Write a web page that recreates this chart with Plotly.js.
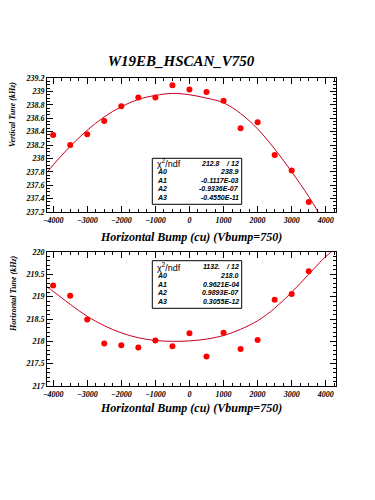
<!DOCTYPE html>
<html>
<head>
<meta charset="utf-8">
<script src="https://cdn.plot.ly/plotly-3.0.1.min.js"></script>
<style>html,body{margin:0;padding:0;background:#fff;}#chart{width:375px;height:500px;}</style>
</head>
<body>
<div id="chart"></div>
<script>
// Measured points
var bumpX = [-4000, -3500, -3000, -2500, -2000, -1500, -1000, -500, 0, 500, 1000, 1500, 2000, 2500, 3000, 3500];
var verticalTune = [238.35, 238.20, 238.36, 238.56, 238.78, 238.91, 238.91, 239.09, 239.03, 238.99, 238.86, 238.45, 238.54, 238.05, 237.82, 237.35];
var horizontalTune = [219.25, 219.02, 218.49, 217.95, 217.91, 217.86, 218.02, 217.89, 218.18, 217.66, 218.19, 217.83, 218.03, 218.93, 219.06, 219.57];

// Fit curves
var vFitX = [-4180, -4000, -3500, -3000, -2500, -2000, -1500, -1000, -500, 0, 500, 1000, 1500, 2000, 2500, 3000, 3500, 3800];
var vFitY = [237.79, 237.90, 238.18, 238.42, 238.62, 238.77, 238.88, 238.94, 238.97, 238.95, 238.90, 238.83, 238.67, 238.44, 238.14, 237.80, 237.43, 237.18];
var hFitX = [-4180, -4000, -3500, -3000, -2500, -2000, -1500, -1000, -500, 0, 500, 1000, 1500, 2000, 2500, 3000, 3500, 4000, 4350];
var hFitY = [219.22, 219.12, 218.83, 218.56, 218.35, 218.19, 218.08, 218.02, 218.00, 218.01, 218.05, 218.13, 218.27, 218.46, 218.74, 219.10, 219.50, 219.90, 220.12];

// Stats box texts
var vStatLabels = ["A0", "A1", "A2", "A3"];
var vStatValues = ["238.9", "-0.1117E-03", "-0.9336E-07", "-0.4550E-11"];
var vChi = ["212.8", "/", "12"];
var hStatLabels = ["A0", "A1", "A2", "A3"];
var hStatValues = ["218.0", "0.9621E-04", "0.9893E-07", "0.3055E-12"];
var hChi = ["1132.", "/", "12"];

var titleText = "W19EB_HSCAN_V750";
var xTitle = "Horizontal Bump (cu) (Vbump=750)";
var vYTitle = "Vertical Tune (kHz)";
var hYTitle = "Horizontal Tune (kHz)";

function px(x){ return x/375; }
function py(y){ return 1 - y/500; }

var markerStyle = {color: '#ff0000', size: 6, symbol: 'circle'};
var lineStyle = {color: '#c8001e', width: 1, shape: 'spline', smoothing: 1};

var traces = [
  {x: vFitX, y: vFitY, mode: 'lines', line: lineStyle, xaxis: 'x', yaxis: 'y', hoverinfo: 'skip'},
  {x: bumpX, y: verticalTune, mode: 'markers', marker: markerStyle, xaxis: 'x', yaxis: 'y'},
  {x: hFitX, y: hFitY, mode: 'lines', line: lineStyle, xaxis: 'x2', yaxis: 'y2', hoverinfo: 'skip'},
  {x: bumpX, y: horizontalTune, mode: 'markers', marker: markerStyle, xaxis: 'x2', yaxis: 'y2'}
];

var tickFont = {family: 'Liberation Serif', size: 8, weight: 'bold', style: 'italic', color: '#000'};

function xAxis(anchor){
  return {
    domain: [47/375, 336/375], anchor: anchor, range: [-4180, 4300],
    tick0: 0, dtick: 1000, ticks: 'inside', ticklen: 6, tickcolor: '#000',
    minor: {dtick: 250, ticks: 'inside', ticklen: 3, tickcolor: '#000'},
    showline: true, linecolor: '#000', linewidth: 1, mirror: 'allticks',
    showgrid: false, zeroline: false, tickfont: tickFont, fixedrange: true
  };
}
function yAxis(anchor, dom, rng, dt, mdt){
  return {
    domain: dom, anchor: anchor, range: rng,
    dtick: dt, tick0: 0, ticks: 'inside', ticklen: 6, tickcolor: '#000',
    minor: {dtick: mdt, ticks: 'inside', ticklen: 3, tickcolor: '#000'},
    showline: true, linecolor: '#000', linewidth: 1, mirror: 'allticks',
    showgrid: false, zeroline: false, tickfont: tickFont, fixedrange: true
  };
}

var serifTitle = {family: 'Liberation Serif', weight: 'bold', style: 'italic', color: '#000'};
function f(extra){ var o = {}; for (var k in serifTitle) o[k] = serifTitle[k]; for (var k2 in extra) o[k2] = extra[k2]; return o; }

var statFont = {family: 'Liberation Sans', size: 7, weight: 'bold', style: 'italic', color: '#000'};
var chiFont = {family: 'Liberation Sans', size: 9, color: '#000'};

var annotations = [
  {text: xTitle, x: px(191), y: py(237), xref: 'paper', yref: 'paper', xanchor: 'center', yanchor: 'middle', showarrow: false, font: f({size: 12})},
  {text: xTitle, x: px(191), y: py(408), xref: 'paper', yref: 'paper', xanchor: 'center', yanchor: 'middle', showarrow: false, font: f({size: 12})},
  {text: vYTitle, x: px(13), y: py(115), xref: 'paper', yref: 'paper', xanchor: 'center', yanchor: 'middle', textangle: -90, showarrow: false, font: f({size: 8})},
  {text: hYTitle, x: px(13), y: py(294), xref: 'paper', yref: 'paper', xanchor: 'center', yanchor: 'middle', textangle: -90, showarrow: false, font: f({size: 8})}
];

function addBox(rows, chi, labels, values){
  annotations.push({text: 'χ<sup>2</sup>/ndf', x: px(155), y: py(rows[0]), xref: 'paper', yref: 'paper', xanchor: 'left', yanchor: 'middle', showarrow: false, font: chiFont});
  annotations.push({text: chi[0], x: px(222), y: py(rows[0]), xref: 'paper', yref: 'paper', xanchor: 'right', yanchor: 'middle', showarrow: false, font: statFont});
  annotations.push({text: chi[1], x: px(227.5), y: py(rows[0]), xref: 'paper', yref: 'paper', xanchor: 'center', yanchor: 'middle', showarrow: false, font: statFont});
  annotations.push({text: chi[2], x: px(241), y: py(rows[0]), xref: 'paper', yref: 'paper', xanchor: 'right', yanchor: 'middle', showarrow: false, font: statFont});
  for (var i = 0; i < labels.length; i++){
    annotations.push({text: labels[i], x: px(155), y: py(rows[i+1]), xref: 'paper', yref: 'paper', xanchor: 'left', yanchor: 'middle', showarrow: false, font: statFont});
    annotations.push({text: values[i], x: px(241), y: py(rows[i+1]), xref: 'paper', yref: 'paper', xanchor: 'right', yanchor: 'middle', showarrow: false, font: statFont});
  }
}
addBox([163, 171.5, 180, 188.5, 197], vChi, vStatLabels, vStatValues);
addBox([266.5, 275, 284, 292.5, 301], hChi, hStatLabels, hStatValues);

var shapes = [
  {type: 'rect', xref: 'paper', yref: 'paper', x0: px(152.3), x1: px(241.7), y0: py(204.3), y1: py(158.3), line: {color: '#000', width: 1}, fillcolor: '#fff', layer: 'above'},
  {type: 'rect', xref: 'paper', yref: 'paper', x0: px(152.3), x1: px(241.7), y0: py(308.3), y1: py(260.7), line: {color: '#000', width: 1}, fillcolor: '#fff', layer: 'above'}
];

var layout = {
  width: 375, height: 500,
  margin: {l: 0, r: 0, t: 0, b: 0},
  paper_bgcolor: '#fff', plot_bgcolor: '#fff',
  showlegend: false,
  title: {text: titleText, x: px(181), y: py(61), xref: 'paper', yref: 'paper', xanchor: 'center', yanchor: 'middle', font: f({size: 15})},
  xaxis: xAxis('y'),
  yaxis: yAxis('x', [1 - 212/500, 1 - 78/500], [237.2, 239.2], 0.2, 0.05),
  xaxis2: xAxis('y2'),
  yaxis2: yAxis('x2', [1 - 386/500, 1 - 252/500], [217, 220], 0.5, 0.1),
  annotations: annotations,
  shapes: shapes
};

Plotly.newPlot('chart', traces, layout, {displayModeBar: false, staticPlot: true});
</script>
</body>
</html>
